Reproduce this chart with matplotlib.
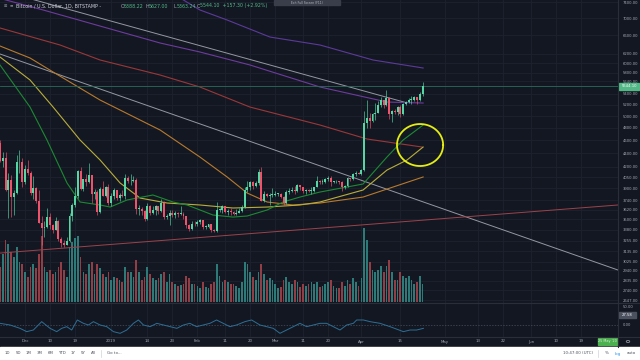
#!/usr/bin/env python3
"""BTC/USD daily candles (Bitstamp) in a dark trading-terminal look."""

import numpy as np
import pandas as pd
import matplotlib
matplotlib.use("Agg")
import matplotlib.pyplot as plt
import matplotlib.dates as mdates
from matplotlib.patches import Rectangle, Circle

OUT = "out.png"
W, H = 640, 360

BG = "#131722"
GRID = "#1e2230"
SEP = "#2a2e39"
AXIS_TXT = "#a3a8b4"
UP = "#56d6a4"
DOWN = "#f0526b"
VOL_UP = "#2d7a78"
VOL_DOWN = "#933d47"

# ---- data -------------------------------------------------------------
FIRST_DAY = "2018-11-22"
ANCHOR = pd.Timestamp("2018-12-01")   # MA / indicator points are days from here
first_open = 4550

closes = [
    4280, 4330, 3880, 4010, 3780, 3830, 4260, 4270, 3980,
    4170, 4110, 3830, 3900, 3730, 3460, 3400, 3410, 3530, 3430, 3380, 3480, 3270, 3230, 3200, 3250,
    3540, 3680, 3800, 4130, 3890, 4020, 3980, 4080, 3820, 3850, 3590, 3890, 3800, 3920, 3710,
    3800, 3880, 3770, 3810, 3790, 4040, 3990, 4000, 4010, 3630, 3630, 3600, 3500, 3660, 3580, 3620,
    3660, 3600, 3700, 3530, 3540, 3580, 3550, 3580, 3570, 3570, 3540, 3430, 3390, 3450, 3440,
    3470, 3490, 3410, 3410, 3440, 3370, 3360, 3620, 3620, 3670, 3590, 3600, 3590, 3570, 3580, 3600,
    3650, 3880, 3920, 3980, 3930, 3970, 4120, 3730, 3820, 3800, 3810, 3810,
    3820, 3820, 3780, 3700, 3850, 3860, 3870, 3860, 3940, 3910, 3860, 3880, 3860, 3860, 3910, 4000,
    3980, 3980, 4020, 4040, 3980, 3990, 3990, 3980, 3910, 3930, 4040, 4020, 4100, 4110, 4100,
    4150, 4880, 4970, 4910, 5040, 5060, 5200, 5290, 5200, 5320, 5040, 5080, 5070, 5160, 5030, 5210,
    5240, 5280, 5280, 5330, 5290, 5388.22, 5544.10,
]
highs = [
    4600, 4420, 4420, 4110, 4080, 3880, 4370, 4440, 4320,
    4230, 4300, 4130, 4070, 3920, 3880, 3540, 3480, 3640, 3580, 3450, 3530, 3490, 3300, 3260, 3300,
    3580, 3700, 3920, 4150, 4190, 4030, 4090, 4250, 4080, 3890, 3880, 3910, 3990, 3930, 3960,
    3840, 3900, 3880, 3840, 3880, 4090, 4070, 4100, 4060, 4040, 3680, 3650, 3620, 3700, 3680, 3670,
    3680, 3670, 3760, 3730, 3570, 3610, 3610, 3600, 3590, 3660, 3590, 3540, 3440, 3480, 3480,
    3490, 3510, 3490, 3430, 3440, 3450, 3390, 3720, 3640, 3680, 3670, 3630, 3640, 3600, 3630, 3640,
    3680, 3920, 4000, 3990, 4000, 3990, 4170, 4200, 3860, 3830, 3830, 3900,
    3860, 3840, 3830, 3790, 3870, 3900, 3910, 3930, 3960, 3940, 3920, 3890, 3890, 3920, 3920, 4060,
    4010, 4030, 4040, 4060, 4070, 4000, 4010, 4000, 3990, 3940, 4050, 4040, 4110, 4130, 4120,
    4160, 5080, 5290, 5050, 5060, 5230, 5260, 5340, 5290, 5470, 5330, 5100, 5130, 5170, 5190, 5230,
    5270, 5320, 5350, 5360, 5340, 5440, 5627.00,
]
lows = [
    4260, 4200, 3860, 3520, 3530, 3560, 3820, 4110, 3920,
    3960, 4080, 3810, 3750, 3710, 3460, 3210, 3300, 3400, 3390, 3340, 3370, 3250, 3180, 3180, 3200,
    3240, 3480, 3650, 3770, 3870, 3860, 3930, 3970, 3700, 3750, 3560, 3580, 3790, 3780, 3680,
    3670, 3750, 3740, 3730, 3780, 3760, 3970, 3940, 3980, 3570, 3560, 3560, 3480, 3490, 3560, 3570,
    3560, 3570, 3590, 3500, 3500, 3430, 3530, 3520, 3530, 3560, 3500, 3400, 3360, 3380, 3420,
    3420, 3440, 3390, 3390, 3400, 3350, 3350, 3350, 3590, 3580, 3580, 3550, 3560, 3550, 3560, 3580,
    3590, 3640, 3850, 3880, 3890, 3920, 3940, 3730, 3720, 3780, 3680, 3780,
    3800, 3790, 3770, 3680, 3690, 3820, 3850, 3820, 3850, 3880, 3840, 3820, 3850, 3820, 3850, 3910,
    3950, 3950, 3970, 3990, 3930, 3970, 3970, 3960, 3860, 3890, 3920, 4000, 4010, 4060, 4090,
    4080, 4140, 4800, 4800, 4900, 4930, 5050, 5150, 5140, 5170, 4950, 4900, 5040, 5020, 4980, 5020,
    5190, 5230, 5220, 5260, 5220, 5270, 5363.24,
]
volumes = [   # thousand BTC, rough
    35, 48, 62, 58, 50, 45, 55, 40, 38,
    30, 25, 35, 38, 34, 48, 66, 35, 30, 32, 28, 30, 35, 40, 32, 25, 55, 60, 64, 66, 45, 30, 28,
    38, 40, 28, 38, 34, 28, 25, 30,
    22, 25, 24, 22, 20, 35, 30, 30, 25, 42, 30, 22, 25, 35, 28, 24, 22, 24, 28, 30, 20, 28, 20,
    18, 16, 17, 18, 26, 24, 18, 18,
    16, 14, 20, 15, 14, 18, 20, 38, 26, 20, 22, 20, 18, 18, 16, 14, 20, 40, 38, 30, 25, 22, 30,
    38, 28, 22, 24, 22,
    18, 14, 15, 22, 25, 20, 18, 22, 20, 15, 18, 16, 18, 20, 18, 20, 15, 16, 18, 20, 22, 16, 14,
    14, 20, 16, 22, 18, 24, 20, 16,
    24, 74, 62, 40, 32, 30, 32, 36, 30, 36, 42, 30, 22, 22, 30, 26, 24, 26, 22, 18, 20, 26, 18,
]

# moving averages: (days from ANCHOR, price)
ma_green_d = [-9.0, 1.8, 7.9, 15.1, 19.8, 27.0, 30.6, 36.7, 46.0, 53.2, 58.3, 67.6, 74.8, 79.9,
              87.1, 92.8, 98.9, 106.1, 121.6, 130.2, 136.0, 143.2]
ma_green_p = [5962, 5157, 4603, 3969, 3717, 3679, 3653, 3743, 3808, 3717, 3679, 3554, 3529, 3542,
              3616, 3717, 3781, 3847, 3955, 4341, 4603, 4847]
ma_yellow_d = [-9.0, 1.8, 10.1, 19.8, 27.0, 34.2, 41.4, 51.1, 62.9, 74.8, 87.1, 98.9, 106.1,
               121.6, 130.2, 137.4, 143.2]
ma_yellow_p = [6128, 5661, 5157, 4603, 4296, 3969, 3768, 3704, 3679, 3641, 3653, 3679, 3717,
               3874, 4150, 4296, 4493]
ma_orange_d = [-9.0, 1.8, 10.1, 27.0, 48.6, 62.9, 72.7, 79.9, 87.1, 96.4, 106.1, 121.6, 143.2]
ma_orange_p = [6365, 6107, 5819, 5283, 4764, 4341, 4052, 3834, 3717, 3679, 3704, 3781, 4052]
ma_red_d = [-9.0, 12.6, 27.0, 48.6, 62.9, 80.9, 106.1, 123.0, 142.8]
ma_red_p = [6773, 6387, 6065, 5759, 5526, 5157, 4847, 4619, 4493]
ma_purple_d = [-9.0, 6.5, 48.6, 62.9, 80.9, 106.1, 130.2, 143.2]
ma_purple_p = [7500, 7207, 6431, 6235, 5962, 5526, 5247, 5229]
ma_purple2_d = [55.8, 62.9, 72.7, 88.1, 106.1, 125.2, 143.2]
ma_purple2_p = [7510, 7207, 6962, 6565, 6387, 6065, 5900]

# drawn trend lines: (days from ANCHOR, price) at both ends
trend_upper_d, trend_upper_p = [-9.0, 136.8], [7710, 5240]
trend_lower_d, trend_lower_p = [-9.0, 213.3], [6192, 2940]
trend_red_d, trend_red_p = [-9.0, 213.3], [3117, 3679]

last_price = 5544.10
# the highlighted cross
circle_d, circle_p = 142.1, 4524

ind_d = [-9.0, -5.4, -1.8, 0.6, 3.0, 6.0, 9.0, 11.4, 13.2, 15.0, 16.8, 18.8, 21.0, 22.8, 24.6,
         27.0, 29.4, 31.8, 34.2, 36.6, 39.0, 40.8, 42.6, 45.0, 47.4, 49.8, 52.2, 54.6, 57.0, 59.3,
         61.7, 64.1, 66.5, 68.9, 71.3, 73.7, 76.1, 79.1, 81.5, 84.5, 86.9, 89.3, 91.7, 94.1, 96.5,
         98.9, 101.3, 103.7, 106.1, 108.5, 110.9, 113.3, 115.7, 118.1, 119.3, 121.7, 124.1, 127.7,
         131.3, 136.1, 138.5, 140.9, 143.3]
ind_v = [4.4, 0.0, -8.8, -17.5, -13.2, 8.8, -8.8, -17.5, -8.8, -4.4, -13.2, 13.2, 4.4, 0.0, 8.8,
         0.0, -4.4, -17.5, -21.9, -13.2, 4.4, 13.2, 0.0, -4.4, 4.4, 0.0, -4.4, -8.8, 0.0, 4.4,
         -4.4, 0.0, 4.4, 13.2, 4.4, -4.4, 0.0, 8.8, 13.2, 0.0, -4.4, -8.8, -21.9, -13.2, -4.4,
         4.4, -4.4, 0.0, 4.4, 4.4, -4.4, -13.2, 0.0, 4.4, 13.2, 13.2, 8.8, 4.4, -4.4, -17.5,
         -13.2, -13.2, -8.8]
ind_last = 27.58

price_ticks = [7400, 7000, 6600, 6200, 6000, 5800, 5640, 5400, 5200, 5000, 4800, 4600, 4400,
               4200, 4050, 3900, 3740, 3620, 3500, 3380, 3255, 3135, 3025, 2940, 2835, 2740, 2647]
time_ticks = ["2018-12-01", "2018-12-10", "2018-12-19", "2019-01-01", "2019-01-14", "2019-01-23",
              "2019-02-01", "2019-02-11", "2019-02-20", "2019-03-01", "2019-03-11", "2019-03-20",
              "2019-04-01", "2019-04-15", "2019-05-01", "2019-05-13", "2019-05-22", "2019-06-01",
              "2019-06-10", "2019-06-19"]
time_labels = ["Dec", "10", "19", "2019", "14", "23", "Feb", "11", "20", "Mar", "11", "20",
               "Apr", "15", "May", "13", "22", "Jun", "10", "19"]


def rect(x0, y0, x1, y1):
    return [x0 / W, 1 - y1 / H, (x1 - x0) / W, (y1 - y0) / H]


def ftxt(fig, px, py, s, **kw):
    kw.setdefault("va", "center")
    fig.text(px / W, 1 - py / H, s, **kw)


def days(d):
    return ANCHOR + pd.to_timedelta(np.asarray(d, dtype=float), unit="D")


def main():
    plt.rcParams.update({"font.family": "DejaVu Sans"})
    fig = plt.figure(figsize=(W / 100, H / 100), dpi=100)
    fig.patch.set_facecolor(BG)

    dates = pd.date_range(FIRST_DAY, periods=len(closes), freq="D")
    opens = [first_open] + closes[:-1]
    x0 = mdates.date2num(ANCHOR - pd.Timedelta(days=9.0))
    x1 = mdates.date2num(ANCHOR + pd.Timedelta(days=213.3))
    tick_dates = pd.to_datetime(time_ticks)

    # ---- price pane ----
    ax = fig.add_axes(rect(0, 0, 618, 303))
    ax.set_facecolor(BG)
    ax.set_yscale("log")
    ax.set_ylim(2624, 7459)
    ax.set_xlim(x0, x1)
    for s in ax.spines.values():
        s.set_visible(False)
    ax.tick_params(axis="x", length=0, labelbottom=False)
    ax.yaxis.tick_right()
    ax.minorticks_off()
    ax.set_yticks(price_ticks)
    ax.set_yticklabels([f"{p:.2f}" for p in price_ticks])
    ax.tick_params(axis="y", length=0, pad=3.5, labelsize=2.7, labelcolor=AXIS_TXT)
    for p in price_ticks:
        ax.axhline(p, color=GRID, lw=0.6, zorder=0)
    for t in tick_dates:
        ax.axvline(t, color=GRID, lw=0.6, zorder=0)

    # volume, in the lower part of the pane
    vmax = max(volumes)
    vcol = [VOL_UP if c >= o else VOL_DOWN for o, c in zip(opens, closes)]
    ax.bar(dates, [v / vmax * 0.245 for v in volumes], width=0.62, bottom=0.0035,
           color=vcol, transform=ax.get_xaxis_transform(), zorder=1)

    # trend lines and averages
    ax.plot(days(trend_upper_d), trend_upper_p, color="#9598a1", lw=0.7, zorder=2)
    ax.plot(days(trend_lower_d), trend_lower_p, color="#9598a1", lw=0.7, zorder=2)
    ax.plot(days(trend_red_d), trend_red_p, color="#9c434b", lw=0.7, zorder=2)
    ax.plot(days(ma_purple2_d), ma_purple2_p, color="#5c3a9a", lw=0.8, zorder=2)
    ax.plot(days(ma_purple_d), ma_purple_p, color="#6e3b9e", lw=0.8, zorder=2)
    ax.plot(days(ma_red_d), ma_red_p, color="#9a3838", lw=0.8, zorder=2)
    ax.plot(days(ma_orange_d), ma_orange_p, color="#b87a2c", lw=0.8, zorder=2)
    ax.plot(days(ma_yellow_d), ma_yellow_p, color="#b9ae3a", lw=0.8, zorder=2)
    ax.plot(days(ma_green_d), ma_green_p, color="#1c8a33", lw=0.8, zorder=2)
    ax.axhline(last_price, color="#2a6e5a", lw=0.6, zorder=2)

    # candles
    ccol = [UP if c >= o else DOWN for o, c in zip(opens, closes)]
    ax.vlines(dates, lows, highs, colors=ccol, lw=0.45, zorder=3)
    bottoms = [min(o, c) for o, c in zip(opens, closes)]
    heights = [max(abs(c - o), 0.003 * c) for o, c in zip(opens, closes)]
    ax.bar(dates, heights, bottom=bottoms, width=0.7, color=ccol, zorder=4)

    # highlight circle
    t = np.linspace(0, 2 * np.pi, 200)
    cx = mdates.date2num(days(circle_d)) + 8.3 * np.cos(t)
    cy = circle_p * np.exp(0.0724 * np.sin(t))
    ax.plot(cx, cy, color="#e4ee12", lw=1.3, zorder=5)

    # ---- lower indicator pane ----
    ia = fig.add_axes(rect(0, 303, 618, 337))
    ia.set_facecolor(BG)
    ia.set_xlim(x0, x1)
    ia.set_ylim(-31.6, 57.9)
    for s in ia.spines.values():
        s.set_visible(False)
    ia.tick_params(axis="x", length=0, labelbottom=False)
    ia.yaxis.tick_right()
    ia.set_yticks([50, 0])
    ia.set_yticklabels(["50.00", "0.00"])
    ia.tick_params(axis="y", length=0, pad=3.5, labelsize=2.7, labelcolor=AXIS_TXT)
    for tdt in tick_dates:
        ia.axvline(tdt, color=GRID, lw=0.6, zorder=0)
    ia.axhline(0, color="#4a5060", lw=0.5, ls=(0, (2, 2)), zorder=1)
    ia.plot(days(ind_d), ind_v, color="#2e6f95", lw=0.7, zorder=2)

    # separators
    fig.add_artist(plt.Line2D([0, 1], [1 - 303 / H] * 2, color=SEP, lw=0.8))
    fig.add_artist(plt.Line2D([0, 1], [1 - 337 / H] * 2, color=SEP, lw=0.8))
    fig.add_artist(plt.Line2D([618 / W] * 2, [1 - 347 / H, 1], color=SEP, lw=0.8))

    # price axis labels that sit in boxes
    fig.add_artist(Rectangle((619 / W, 1 - 89.5 / H), 20 / W, 6.5 / H,
                             transform=fig.transFigure, color="#53b987"))
    ftxt(fig, 629, 86.2, "5544.10", fontsize=2.7, color="white", ha="center")
    fig.add_artist(Rectangle((619 / W, 1 - 317.5 / H), 17 / W, 6 / H,
                             transform=fig.transFigure, color="#4c5160"))
    ftxt(fig, 627.5, 314.5, f"{ind_last:.2f}", fontsize=2.7, color="white", ha="center")

    # ---- time axis ----
    for tdt, lab in zip(tick_dates, time_labels):
        xf = ax.transData.transform((mdates.date2num(tdt), 3000))[0] / fig.bbox.width
        fig.text(xf, 1 - 341.5 / H, lab, fontsize=2.8, color=AXIS_TXT, ha="center", va="center")
    fig.add_artist(Rectangle((598 / W, 1 - 345 / H), 19 / W, 7.5 / H,
                             transform=fig.transFigure, color="#4caf50"))
    ftxt(fig, 607.5, 341.3, "25 May '20", fontsize=2.4, color="#d9f0d9", ha="center")
    fig.add_artist(Circle((628 / W, 1 - 341.5 / H), 1.8 / W, transform=fig.transFigure,
                          fill=False, ec=AXIS_TXT, lw=0.5))

    # ---- header ----
    ftxt(fig, 4, 6, "⊞  ≡", fontsize=3, color="#8a8f9b")
    ftxt(fig, 16, 6, "Bitcoin / U.S. Dollar, 1D, BITSTAMP -", fontsize=3.4, color="#d1d4dc")
    ohlc = [(121, "O", "5388.22"), (146, "H", "5627.00"), (174, "L", "5363.24"),
            (197, "C", "5544.10  +157.30 (+2.92%)")]
    for px, k, v in ohlc:
        ftxt(fig, px, 6, k, fontsize=3.4, color="#a3a8b4")
        ftxt(fig, px + 3, 6, v, fontsize=3.4, color="#53b987")
    fig.add_artist(Rectangle((274 / W, 1 - 5 / H), 66 / W, 5 / H,
                             transform=fig.transFigure, color="#3a3e4a"))
    ftxt(fig, 307, 2.5, "Exit Full Screen (F11)", fontsize=2.2, color="#b8bcc6", ha="center")

    # ---- bottom toolbar ----
    fig.add_artist(Rectangle((0, 0), 1, 13 / H, transform=fig.transFigure, color="white"))
    for px, s in [(7, "1D"), (18, "5D"), (29, "1M"), (40, "3M"), (51, "6M"), (62, "YTD"),
                  (73, "1Y"), (83, "5Y"), (93, "All")]:
        ftxt(fig, px, 353.5, s, fontsize=2.9, color="#4c525e", ha="center")
    fig.add_artist(plt.Line2D([101 / W] * 2, [1 - 357 / H, 1 - 350 / H], color="#d0d3da", lw=0.5))
    ftxt(fig, 107, 353.5, "Go to...", fontsize=2.9, color="#4c525e")
    ftxt(fig, 563, 353.5, "10:47:00 (UTC)", fontsize=2.9, color="#4c525e")
    fig.add_artist(plt.Line2D([598 / W] * 2, [1 - 357 / H, 1 - 350 / H], color="#d0d3da", lw=0.5))
    ftxt(fig, 607, 353.5, "%", fontsize=2.9, color="#4c525e", ha="center")
    ftxt(fig, 618, 353.5, "log", fontsize=2.9, color="#2196f3", ha="center")
    ftxt(fig, 631, 353.5, "auto", fontsize=2.9, color="#4c525e", ha="center")

    fig.savefig(OUT, dpi=100, facecolor=BG)


if __name__ == "__main__":
    main()
